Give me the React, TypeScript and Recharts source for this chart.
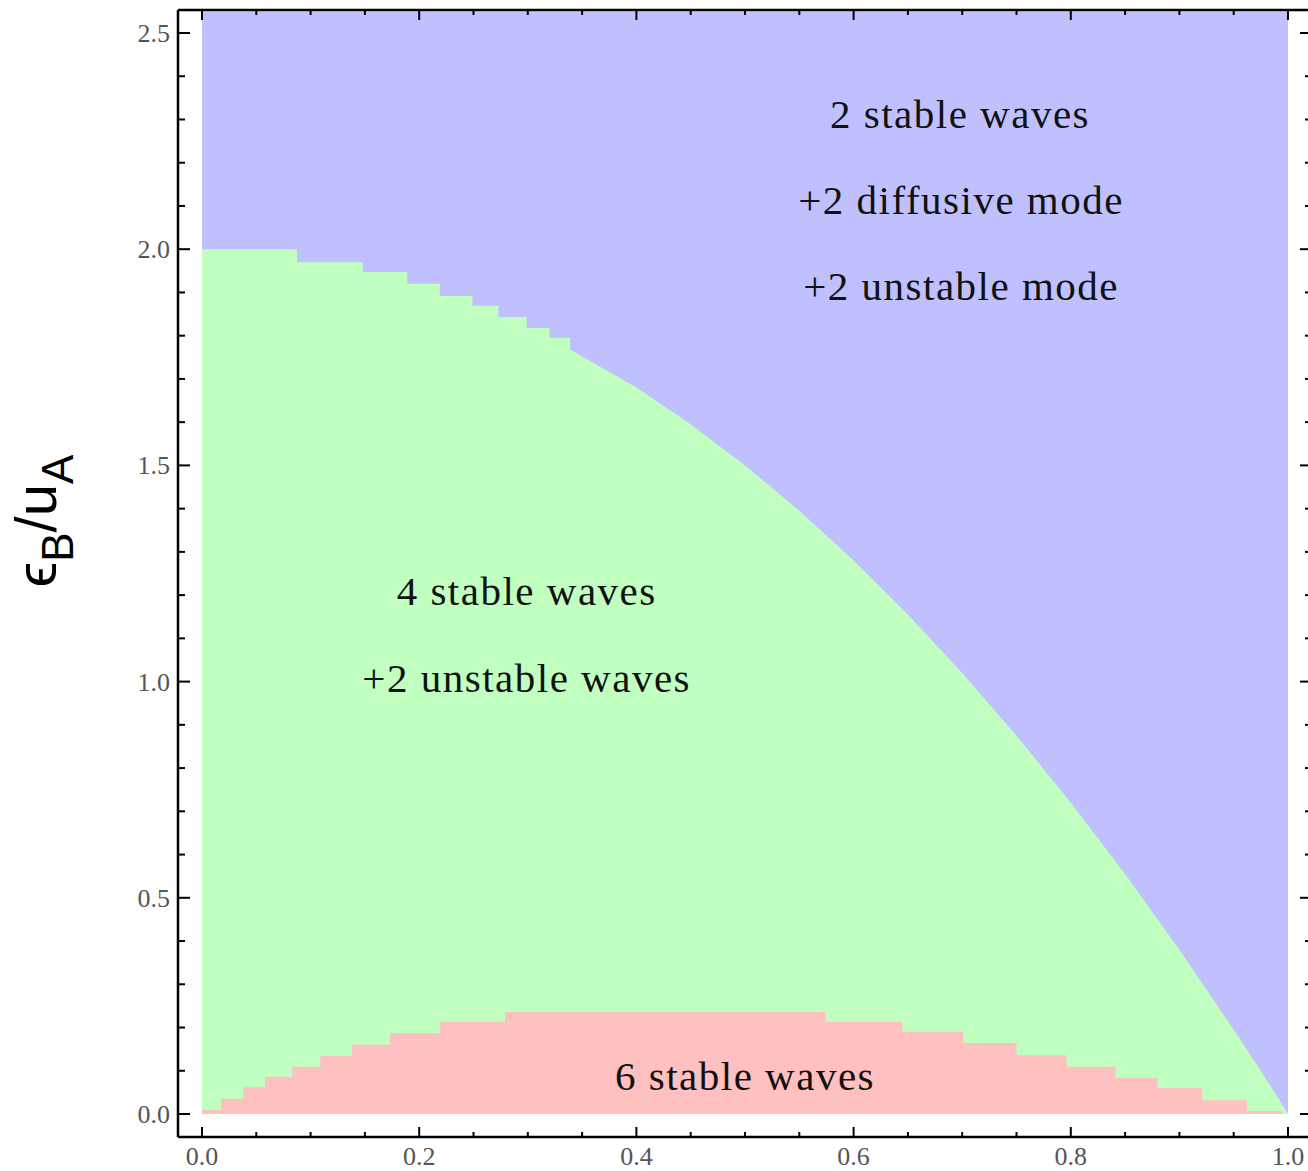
import { ComposedChart, Area, XAxis, YAxis, ReferenceDot } from 'recharts';

// tick positions
const xTicks = [0, 0.05, 0.1, 0.15, 0.2, 0.25, 0.3, 0.35, 0.4, 0.45, 0.5, 0.55, 0.6, 0.65, 0.7, 0.75, 0.8, 0.85, 0.9, 0.95, 1.0];
const xMajor = [0, 0.2, 0.4, 0.6, 0.8, 1.0];
const yTicks = [0, 0.1, 0.2, 0.3, 0.4, 0.5, 0.6, 0.7, 0.8, 0.9, 1.0, 1.1, 1.2, 1.3, 1.4, 1.5, 1.6, 1.7, 1.8, 1.9, 2.0, 2.1, 2.2, 2.3, 2.4, 2.5];
const yMajor = [0, 0.5, 1.0, 1.5, 2.0, 2.5];

// region boundaries
const blueX = [0, 1];
const blueY = [2.55, 2.55];

const greenStepX = [0, 0.0875, 0.148, 0.189, 0.219, 0.249, 0.273, 0.299, 0.32, 0.339];
const greenStepY = [2.0, 1.97, 1.947, 1.92, 1.892, 1.869, 1.843, 1.818, 1.795, 1.795];

const greenCurveX = [0.334, 0.4, 0.45, 0.5, 0.55, 0.6, 0.65, 0.7, 0.75, 0.8, 0.85, 0.9, 0.95, 0.975, 1.0];
const greenCurveY = [1.775, 1.68, 1.595, 1.5, 1.395, 1.28, 1.155, 1.02, 0.875, 0.72, 0.555, 0.38, 0.195, 0.1, 0];

const redX = [0, 0.0175, 0.038, 0.058, 0.083, 0.109, 0.138, 0.173, 0.219, 0.279, 0.574, 0.645, 0.701, 0.75, 0.796, 0.841, 0.88, 0.921, 0.962, 0.995];
const redY = [0.009, 0.035, 0.062, 0.086, 0.109, 0.134, 0.16, 0.187, 0.213, 0.236, 0.213, 0.19, 0.164, 0.136, 0.109, 0.083, 0.06, 0.032, 0.007, 0];

const annotations = [
  { text: '2 stable waves', x: 0.698, y: 2.28 },
  { text: '+2 diffusive mode', x: 0.699, y: 2.081 },
  { text: '+2 unstable mode', x: 0.699, y: 1.883 },
  { text: '4 stable waves', x: 0.299, y: 1.177 },
  { text: '+2 unstable waves', x: 0.299, y: 0.976 },
  { text: '6 stable waves', x: 0.5, y: 0.0555 },
];

const toRows = (xs: number[], ys: number[]) => xs.map((x, i) => ({ x, y: ys[i] }));
const blueData = toRows(blueX, blueY);
const greenStepData = toRows(greenStepX, greenStepY);
const greenCurveData = toRows(greenCurveX, greenCurveY);
const redData = toRows(redX, redY);

const isMajor = (list: number[], v: number) => list.some(m => Math.abs(m - v) < 1e-6);

const tickFont = { fontFamily: '"Liberation Serif", "Times New Roman", serif', fontSize: 26, fill: '#555' };

const BottomTick = ({ x, y, payload }: any) => {
  const major = isMajor(xMajor, payload.value);
  return (
    <g>
      <line x1={x} x2={x} y1={y} y2={y - (major ? 10 : 5)} stroke="#000" strokeWidth={2} />
      {major && <text x={x} y={y + 28} textAnchor="middle" {...tickFont}>{payload.value.toFixed(1)}</text>}
    </g>
  );
};

const TopTick = ({ x, y, payload }: any) => {
  const major = isMajor(xMajor, payload.value);
  return <line x1={x} x2={x} y1={y} y2={y + (major ? 10 : 5)} stroke="#000" strokeWidth={2} />;
};

const LeftTick = ({ x, y, payload }: any) => {
  const major = isMajor(yMajor, payload.value);
  return (
    <g>
      <line x1={x} x2={x + (major ? 12 : 7)} y1={y} y2={y} stroke="#000" strokeWidth={2} />
      {major && <text x={x - 8} y={y + 9} textAnchor="end" {...tickFont}>{payload.value.toFixed(1)}</text>}
    </g>
  );
};

const RightTick = ({ x, y, payload }: any) => {
  const major = isMajor(yMajor, payload.value);
  return <line x1={x} x2={x - (major ? 12 : 7)} y1={y} y2={y} stroke="#000" strokeWidth={2} />;
};

const YLabel = () => (
  <text
    x={56}
    y={521}
    transform="rotate(-90, 56, 521)"
    textAnchor="middle"
    fontFamily='"Liberation Sans", "DejaVu Sans", sans-serif'
    fontSize={58}
    fill="#000"
  >
    ϵ<tspan fontSize={44} dy={17}>B</tspan>
    <tspan dy={-17}>/u</tspan>
    <tspan fontSize={44} dy={17}>A</tspan>
  </text>
);

const makeNote = (text: string) => (props: any) => {
  const vb = props.viewBox || {};
  const cx = (vb.x ?? 0) + (vb.width ?? 0) / 2;
  const cy = (vb.y ?? 0) + (vb.height ?? 0) / 2;
  return (
    <text
      x={cx}
      y={cy}
      textAnchor="middle"
      fontFamily='"Liberation Serif", "Times New Roman", serif'
      fontSize={41}
      letterSpacing={1.5}
      fill="#111"
    >
      {text}
    </text>
  );
};

export default function App() {
  return (
    <div style={{ position: 'absolute', left: 0, top: 0, width: 1308, height: 1171, overflow: 'hidden', background: '#fff' }}>
      <ComposedChart width={1316} height={1171} margin={{ top: 9, left: 177, right: 3, bottom: 33 }}>
        <XAxis
          xAxisId="b"
          type="number"
          dataKey="x"
          domain={[-0.0221, 1.0221]}
          allowDataOverflow
          ticks={xTicks}
          interval={0}
          height={1}
          tickSize={0}
          tickMargin={0}
          tickLine={false}
          tick={BottomTick}
          axisLine={{ stroke: '#000', strokeWidth: 2.5 }}
        />
        <XAxis
          xAxisId="t"
          orientation="top"
          type="number"
          dataKey="x"
          domain={[-0.0221, 1.0221]}
          allowDataOverflow
          ticks={xTicks}
          interval={0}
          height={1}
          tickSize={0}
          tickMargin={0}
          tickLine={false}
          tick={TopTick}
          axisLine={{ stroke: '#000', strokeWidth: 2.5 }}
        />
        <YAxis
          yAxisId="l"
          type="number"
          domain={[-0.0532, 2.5532]}
          allowDataOverflow
          ticks={yTicks}
          interval={0}
          width={1}
          tickSize={0}
          tickMargin={0}
          tickLine={false}
          tick={LeftTick}
          axisLine={{ stroke: '#000', strokeWidth: 2.5 }}
          label={{ content: YLabel }}
        />
        <YAxis
          yAxisId="r"
          orientation="right"
          type="number"
          domain={[-0.0532, 2.5532]}
          allowDataOverflow
          ticks={yTicks}
          interval={0}
          width={1}
          tickSize={0}
          tickMargin={0}
          tickLine={false}
          tick={RightTick}
          axisLine={{ stroke: '#000', strokeWidth: 2.5 }}
        />
        <Area xAxisId="b" yAxisId="l" data={blueData} dataKey="y" type="linear" baseValue={0}
          fill="#c0c0ff" fillOpacity={1} stroke="none" isAnimationActive={false} />
        <Area xAxisId="b" yAxisId="l" data={greenStepData} dataKey="y" type="stepAfter" baseValue={0}
          fill="#c0ffc0" fillOpacity={1} stroke="none" isAnimationActive={false} />
        <Area xAxisId="b" yAxisId="l" data={greenCurveData} dataKey="y" type="linear" baseValue={0}
          fill="#c0ffc0" fillOpacity={1} stroke="none" isAnimationActive={false} />
        <Area xAxisId="b" yAxisId="l" data={redData} dataKey="y" type="stepAfter" baseValue={0}
          fill="#ffc0c0" fillOpacity={1} stroke="none" isAnimationActive={false} />
        {annotations.map(a => (
          <ReferenceDot key={a.text} xAxisId="b" yAxisId="l" x={a.x} y={a.y} r={0}
            fill="none" stroke="none" label={{ content: makeNote(a.text) }} />
        ))}
      </ComposedChart>
    </div>
  );
}
